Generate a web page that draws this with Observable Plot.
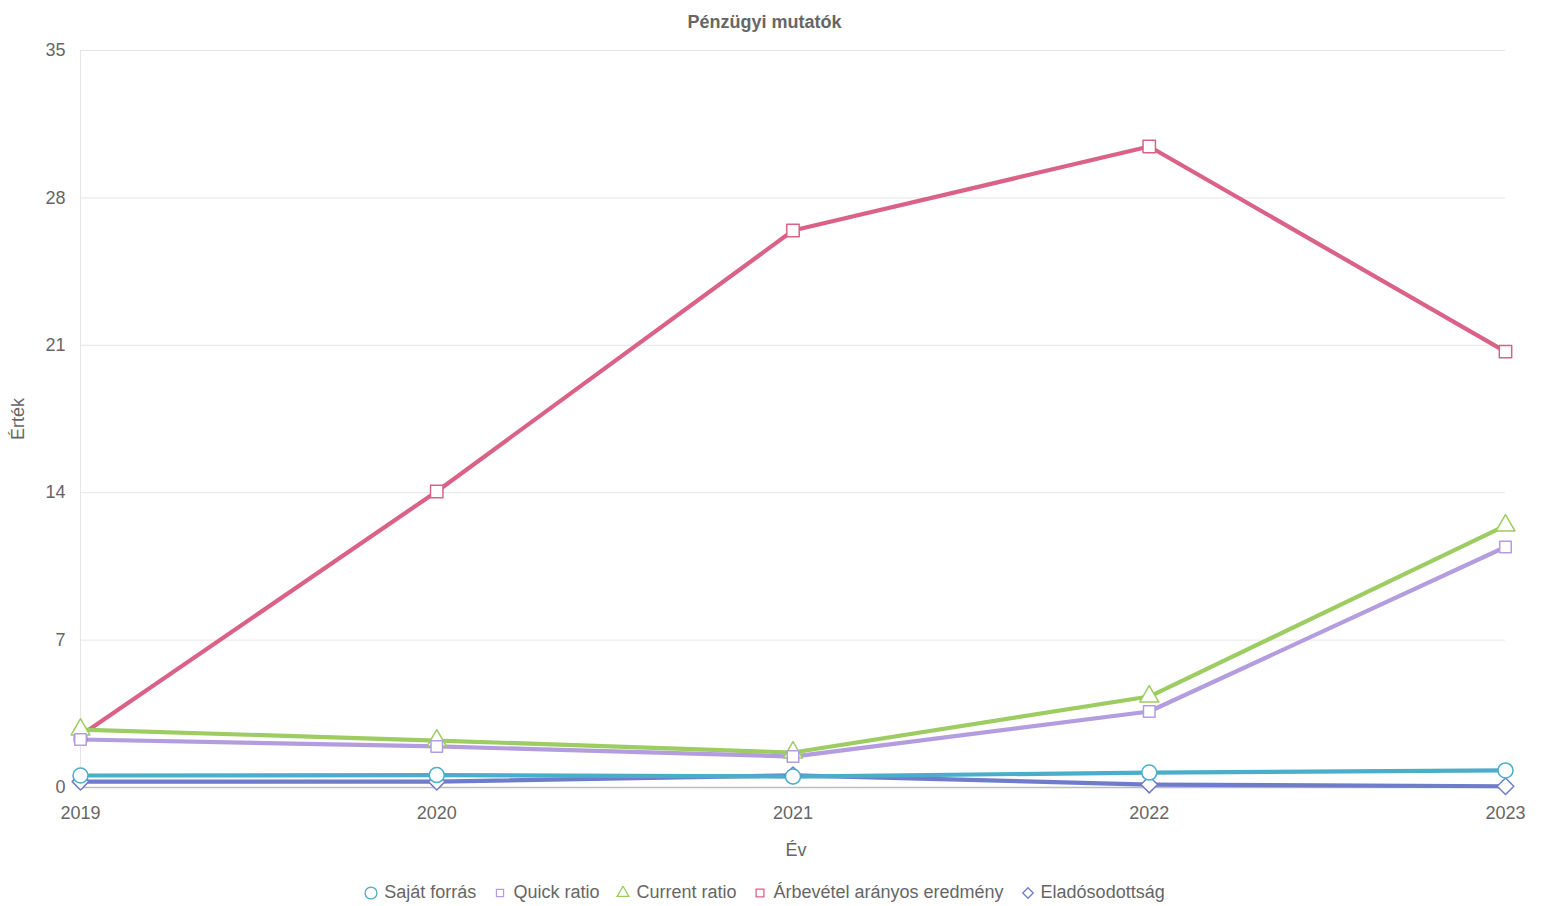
<!DOCTYPE html>
<html>
<head>
<meta charset="utf-8">
<script src="https://cdn.jsdelivr.net/npm/d3@7"></script>
<script src="https://cdn.jsdelivr.net/npm/@observablehq/plot@0.6"></script>
<style>
  html, body { margin: 0; padding: 0; background: #fff; }
  body { width: 1543px; height: 906px; overflow: hidden; font-family: "Liberation Sans", Arial, sans-serif; color: #666; }
  #title { height: 40px; line-height: 45px; text-align: center; font-weight: bold; font-size: 18px; color: #666; padding-right: 14px; }
  #legend { display: flex; justify-content: center; align-items: center; gap: 17px; font-size: 18px; color: #666; margin-top: 17px; padding-right: 14px; }
  #legend .item { display: flex; align-items: center; gap: 6px; }
  #chart svg { display: block; }
</style>
</head>
<body>
<div id="title">Pénzügyi mutatók</div>
<div id="chart"></div>
<div id="legend"></div>
<script>
const years = [2019, 2020, 2021, 2022, 2023];
const seriesNames = ["Saját forrás", "Quick ratio", "Current ratio", "Árbevétel arányos eredmény", "Eladósodottság"];
const sajatForras = [0.57, 0.59, 0.52, 0.71, 0.81];
const quickRatio = [2.28, 1.95, 1.47, 3.61, 11.42];
const currentRatio = [2.75, 2.23, 1.66, 4.32, 12.44];
const arbevetel = [2.47, 14.06, 26.45, 30.44, 20.70];
const eladosodottsag = [0.28, 0.28, 0.58, 0.14, 0.06];
const yTicks = [0, 7, 14, 21, 28, 35];

const colors = ["#4aaecb", "#b39ddf", "#9ccc62", "#da6286", "#6f7cca"];
const symbols = ["circle", "square", "triangle", "square", "diamond2"];
const radii = [7.5, 6.5, 7, 7, 7.5];
const legendSizes = [110, 50, 60, 60, 70];
const valuesList = [sajatForras, quickRatio, currentRatio, arbevetel, eladosodottsag];

const series = seriesNames.map((name, i) => ({
  name, color: colors[i], symbol: symbols[i], r: radii[i], ls: legendSizes[i],
  data: years.map((y, j) => ({year: y, value: valuesList[i][j], series: name}))
}));

const marks = [
  Plot.gridY(yTicks, {stroke: "#e5e5e5", strokeOpacity: 1, strokeWidth: 1}),
  Plot.ruleX([2019], {stroke: "#e5e5e5", strokeWidth: 1}),
  Plot.ruleY([0], {stroke: "#bdbdbd", strokeWidth: 1.5}),
  Plot.axisY(yTicks, {tickSize: 0, tickPadding: 15, fontSize: 18, fill: "#666", label: null}),
  Plot.axisX(years, {tickSize: 0, tickPadding: 19, fontSize: 18, fill: "#666", tickFormat: d => String(d), label: null}),
  Plot.text(["Érték"], {frameAnchor: "left", textAnchor: "middle", dx: -62, rotate: -90, fontSize: 18, fill: "#666"}),
  Plot.text(["Év"], {frameAnchor: "bottom", dy: 68, dx: 3, fontSize: 18, fill: "#666"})
];

// draw in reverse order so the first series is on top
for (let i = series.length - 1; i >= 0; i--) {
  const s = series[i];
  marks.push(Plot.line(s.data, {x: "year", y: "value", stroke: s.color, strokeWidth: 4.2, curve: "linear"}));
}
for (let i = series.length - 1; i >= 0; i--) {
  const s = series[i];
  marks.push(Plot.dot(s.data, {x: "year", y: "value", stroke: s.color, fill: "white", symbol: s.symbol, r: s.r, strokeWidth: 1.5, strokeLinejoin: "round"}));
}

const chart = Plot.plot({
  width: 1543,
  height: 825,
  marginTop: 10,
  marginBottom: 78,
  marginLeft: 80,
  marginRight: 38,
  style: {fontFamily: "'Liberation Sans', Arial, sans-serif", fontSize: "18px", color: "#666", background: "white", overflow: "visible"},
  x: {domain: [2019, 2023], label: null},
  y: {domain: [0, 35], label: null},
  marks
});
document.getElementById("chart").appendChild(chart);

// legend
const legend = document.getElementById("legend");
const symMap = {circle: d3.symbolCircle, square: d3.symbolSquare, triangle: d3.symbolTriangle, diamond2: d3.symbolDiamond2};
series.forEach(s => {
  const item = document.createElement("div");
  item.className = "item";
  const svg = d3.create("svg").attr("width", 14).attr("height", 14).attr("viewBox", "-7 -7 14 14");
  svg.append("path").attr("d", d3.symbol(symMap[s.symbol], s.ls)()).attr("fill", "white").attr("stroke", s.color).attr("stroke-width", 1.3);
  item.appendChild(svg.node());
  const label = document.createElement("span");
  label.textContent = s.name;
  item.appendChild(label);
  legend.appendChild(item);
});
</script>
</body>
</html>
